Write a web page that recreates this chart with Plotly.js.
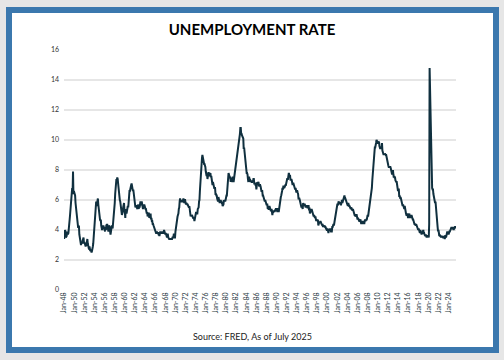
<!DOCTYPE html>
<html>
<head>
<meta charset="utf-8">
<script src="https://cdn.plot.ly/plotly-3.0.1.min.js"></script>
<style>
  html, body { margin: 0; padding: 0; background: #e6e6e6; }
  #frame { position: absolute; left: 6px; top: 7px; width: 493px; height: 346px; background: #3b78ae; }
  #card { position: absolute; left: 12px; top: 13px; width: 481px; height: 334px; background: #ffffff; }
  #chart { position: absolute; left: 0; top: 0; width: 504px; height: 360px; }
</style>
</head>
<body>
<div id="frame"></div>
<div id="card"></div>
<div id="chart"></div>
<script>
// Monthly US unemployment rate (%), by decade, starting Jan of the first year
const startYear = 1948;
const rates1940s = [
  3.4,3.8,4.0,3.9,3.5,3.6,3.6,3.9,3.8,3.7,3.8,4.0,
  4.3,4.7,5.0,5.3,6.1,6.2,6.7,6.8,6.6,7.9,6.4,6.6
];
const rates1950s = [
  6.5,6.4,6.3,5.8,5.5,5.4,5.0,4.5,4.4,4.2,4.2,4.3,
  3.7,3.4,3.4,3.1,3.0,3.2,3.1,3.1,3.3,3.5,3.5,3.1,
  3.2,3.1,2.9,2.9,3.0,3.0,3.2,3.4,3.1,3.0,2.8,2.7,
  2.9,2.6,2.6,2.7,2.5,2.5,2.6,2.7,2.9,3.1,3.5,4.5,
  4.9,5.2,5.7,5.9,5.9,5.6,5.8,6.0,6.1,5.7,5.3,5.0,
  4.9,4.7,4.6,4.7,4.3,4.2,4.0,4.2,4.1,4.3,4.2,4.2,
  4.0,3.9,4.2,4.0,4.3,4.3,4.4,4.1,3.9,3.9,4.3,4.2,
  4.2,3.9,3.7,3.9,4.1,4.3,4.2,4.1,4.4,4.5,5.1,5.2,
  5.8,6.4,6.7,7.4,7.4,7.3,7.5,7.4,7.1,6.7,6.2,6.2,
  6.0,5.9,5.6,5.2,5.1,5.0,5.1,5.2,5.5,5.7,5.8,5.3
];
const rates1960s = [
  5.2,4.8,5.4,5.2,5.1,5.4,5.5,5.6,5.5,6.1,6.1,6.6,
  6.6,6.9,6.9,7.0,7.1,6.9,7.0,6.6,6.7,6.5,6.1,6.0,
  5.8,5.5,5.6,5.6,5.5,5.5,5.4,5.7,5.6,5.4,5.7,5.5,
  5.7,5.9,5.7,5.7,5.9,5.6,5.6,5.4,5.5,5.5,5.7,5.5,
  5.6,5.4,5.4,5.3,5.1,5.2,4.9,5.0,5.1,5.1,4.8,5.0,
  4.9,5.1,4.7,4.8,4.6,4.6,4.4,4.4,4.3,4.2,4.1,4.0,
  4.0,3.8,3.8,3.8,3.9,3.8,3.8,3.8,3.7,3.7,3.6,3.8,
  3.9,3.8,3.8,3.8,3.8,3.9,3.8,3.8,3.8,4.0,3.9,3.8,
  3.7,3.8,3.7,3.5,3.5,3.7,3.7,3.5,3.4,3.4,3.4,3.4,
  3.4,3.4,3.4,3.4,3.4,3.5,3.5,3.5,3.7,3.7,3.5,3.5
];
const rates1970s = [
  3.9,4.2,4.4,4.6,4.8,4.9,5.0,5.1,5.4,5.5,5.9,6.1,
  5.9,5.9,6.0,5.9,5.9,5.9,6.0,6.1,6.0,5.8,6.0,6.0,
  5.8,5.7,5.8,5.7,5.7,5.7,5.6,5.6,5.5,5.6,5.3,5.2,
  4.9,5.0,4.9,5.0,4.9,4.9,4.8,4.8,4.8,4.6,4.8,4.9,
  5.1,5.2,5.1,5.1,5.1,5.4,5.5,5.5,5.9,6.0,6.6,7.2,
  8.1,8.1,8.6,8.8,9.0,8.8,8.6,8.4,8.4,8.4,8.3,8.2,
  7.9,7.7,7.6,7.7,7.4,7.6,7.8,7.8,7.6,7.7,7.8,7.8,
  7.5,7.6,7.4,7.2,7.0,7.2,6.9,7.0,6.8,6.8,6.8,6.4,
  6.4,6.3,6.3,6.1,6.0,5.9,6.2,5.9,6.0,5.8,5.9,6.0,
  5.9,5.9,5.8,5.8,5.6,5.7,5.7,6.0,5.9,6.0,5.9,6.0
];
const rates1980s = [
  6.3,6.3,6.3,6.9,7.5,7.6,7.8,7.7,7.5,7.5,7.5,7.2,
  7.5,7.4,7.4,7.2,7.5,7.5,7.2,7.4,7.6,7.9,8.3,8.5,
  8.6,8.9,9.0,9.3,9.4,9.6,9.8,9.8,10.1,10.4,10.8,10.8,
  10.4,10.4,10.3,10.2,10.1,10.1,9.4,9.5,9.2,8.8,8.5,8.3,
  8.0,7.8,7.8,7.7,7.4,7.2,7.5,7.5,7.3,7.4,7.2,7.3,
  7.3,7.2,7.2,7.3,7.2,7.4,7.4,7.1,7.1,7.1,7.0,7.0,
  6.7,7.2,7.2,7.1,7.2,7.2,7.0,6.9,7.0,7.0,6.9,6.6,
  6.6,6.6,6.6,6.3,6.3,6.2,6.1,6.0,5.9,6.0,5.8,5.7,
  5.7,5.7,5.7,5.4,5.6,5.4,5.4,5.6,5.4,5.4,5.3,5.3,
  5.4,5.2,5.0,5.2,5.2,5.3,5.2,5.2,5.3,5.3,5.4,5.4
];
const rates1990s = [
  5.4,5.3,5.2,5.4,5.4,5.2,5.5,5.7,5.9,5.9,6.2,6.3,
  6.4,6.6,6.8,6.7,6.9,6.9,6.8,6.9,6.9,7.0,7.0,7.3,
  7.3,7.4,7.4,7.4,7.6,7.8,7.7,7.6,7.6,7.3,7.4,7.4,
  7.3,7.1,7.0,7.1,7.1,7.0,6.9,6.8,6.7,6.8,6.6,6.5,
  6.6,6.6,6.5,6.4,6.1,6.1,6.1,6.0,5.9,5.8,5.6,5.5,
  5.6,5.4,5.4,5.8,5.6,5.6,5.7,5.7,5.6,5.5,5.6,5.6,
  5.6,5.5,5.5,5.6,5.6,5.3,5.5,5.1,5.2,5.2,5.4,5.4,
  5.3,5.2,5.2,5.1,4.9,5.0,4.9,4.8,4.9,4.7,4.6,4.7,
  4.6,4.6,4.7,4.3,4.4,4.5,4.5,4.5,4.6,4.5,4.4,4.4,
  4.3,4.4,4.2,4.3,4.2,4.3,4.3,4.2,4.2,4.1,4.1,4.0
];
const rates2000s = [
  4.0,4.1,4.0,3.8,4.0,4.0,4.0,4.1,3.9,3.9,3.9,3.9,
  4.2,4.2,4.3,4.4,4.3,4.5,4.6,4.9,5.0,5.3,5.5,5.7,
  5.7,5.7,5.7,5.9,5.8,5.8,5.8,5.7,5.7,5.7,5.9,6.0,
  5.8,5.9,5.9,6.0,6.1,6.3,6.2,6.1,6.1,6.0,5.8,5.7,
  5.7,5.6,5.8,5.6,5.6,5.6,5.5,5.4,5.4,5.5,5.4,5.4,
  5.3,5.4,5.2,5.2,5.1,5.0,5.0,4.9,5.0,5.0,5.0,4.9,
  4.7,4.8,4.7,4.7,4.6,4.6,4.7,4.7,4.5,4.4,4.5,4.4,
  4.6,4.5,4.4,4.5,4.4,4.6,4.7,4.6,4.7,4.7,4.7,5.0,
  5.0,4.9,5.1,5.0,5.4,5.6,5.8,6.1,6.1,6.5,6.8,7.3,
  7.8,8.3,8.7,9.0,9.4,9.5,9.5,9.6,9.8,10.0,9.9,9.9
];
const rates2010s = [
  9.8,9.8,9.9,9.9,9.6,9.4,9.4,9.5,9.5,9.4,9.8,9.3,
  9.1,9.0,9.0,9.1,9.0,9.1,9.0,9.0,9.0,8.8,8.6,8.5,
  8.3,8.3,8.2,8.2,8.2,8.2,8.2,8.1,7.8,7.8,7.7,7.9,
  8.0,7.7,7.5,7.6,7.5,7.5,7.3,7.2,7.2,7.2,6.9,6.7,
  6.6,6.7,6.7,6.2,6.3,6.1,6.2,6.1,5.9,5.7,5.8,5.6,
  5.7,5.5,5.4,5.4,5.6,5.3,5.2,5.1,5.0,5.0,5.1,5.0,
  4.8,4.9,5.0,5.1,4.8,4.9,4.8,4.9,5.0,4.9,4.7,4.7,
  4.7,4.6,4.4,4.4,4.4,4.3,4.3,4.4,4.3,4.2,4.2,4.1,
  4.0,4.1,4.0,4.0,3.8,4.0,3.8,3.8,3.7,3.8,3.8,3.9,
  4.0,3.8,3.8,3.7,3.6,3.6,3.7,3.6,3.5,3.6,3.6,3.6
];
const rates2020s = [
  3.6,3.5,4.4,14.8,13.2,11.0,10.2,8.4,7.8,6.8,6.7,6.7,
  6.4,6.2,6.1,6.1,5.8,5.9,5.4,5.1,4.7,4.5,4.2,3.9,
  4.0,3.8,3.6,3.7,3.6,3.6,3.5,3.6,3.5,3.6,3.6,3.5,
  3.5,3.6,3.5,3.4,3.6,3.6,3.5,3.7,3.8,3.9,3.7,3.8,
  3.7,3.9,3.9,3.9,4.0,4.1,4.2,4.2,4.1,4.1,4.2,4.1,
  4.0,4.1,4.2,4.2,4.2,4.1
];
const tickYears = [];
for (let y = 1948; y <= 2024; y += 2) tickYears.push(y);
const tickLabels = tickYears.map(y => 'Jan-' + String(y % 100).padStart(2, '0'));

const rates = [].concat(rates1940s, rates1950s, rates1960s, rates1970s, rates1980s,
                        rates1990s, rates2000s, rates2010s, rates2020s);
const dates = rates.map((_, i) => {
  const y = startYear + Math.floor(i / 12);
  const m = (i % 12) + 1;
  return y + '-' + String(m).padStart(2, '0') + '-01';
});
const tickVals = tickYears.map(y => y + '-01-01');

const trace = {
  x: dates, y: rates, type: 'scatter', mode: 'lines',
  line: { color: '#10303f', width: 2 },
  hoverinfo: 'skip'
};

const layout = {
  width: 504, height: 360,
  margin: { l: 64, r: 48, t: 50, b: 70 },
  paper_bgcolor: 'rgba(0,0,0,0)',
  plot_bgcolor: 'rgba(0,0,0,0)',
  showlegend: false,
  font: { family: 'Lato, "Open Sans", sans-serif', color: '#333' },
  title: {
    text: '<b>UNEMPLOYMENT RATE</b>',
    xref: 'container', yref: 'container',
    x: 0.5, y: 1 - 30 / 360, xanchor: 'center', yanchor: 'middle',
    font: { family: 'Lato, sans-serif', size: 15, color: '#000' }
  },
  xaxis: {
    type: 'date',
    range: ['1947-12-20', '2025-06-20'],
    tickvals: tickVals, ticktext: tickLabels,
    tickangle: -90,
    tickfont: { size: 7, color: '#2a3a44' },
    showgrid: false, zeroline: false, showline: false, ticks: ''
  },
  yaxis: {
    range: [0, 16],
    tickvals: [0, 2, 4, 6, 8, 10, 12, 14, 16],
    tickfont: { size: 7, color: '#333' },
    showgrid: true, gridcolor: '#e6e6e6', gridwidth: 1.5,
    zeroline: false, showline: false, ticks: '',
    ticklabelstandoff: 4
  },
  annotations: [{
    text: 'Source: FRED, As of July 2025',
    xref: 'paper', yref: 'paper',
    x: (252 - 64) / 392, y: (290 - 336) / 240,
    xanchor: 'center', yanchor: 'middle', showarrow: false,
    font: { family: 'Lato, sans-serif', size: 9, color: '#222' }
  }]
};

Plotly.newPlot('chart', [trace], layout, { staticPlot: true, displayModeBar: false });
</script>
</body>
</html>
